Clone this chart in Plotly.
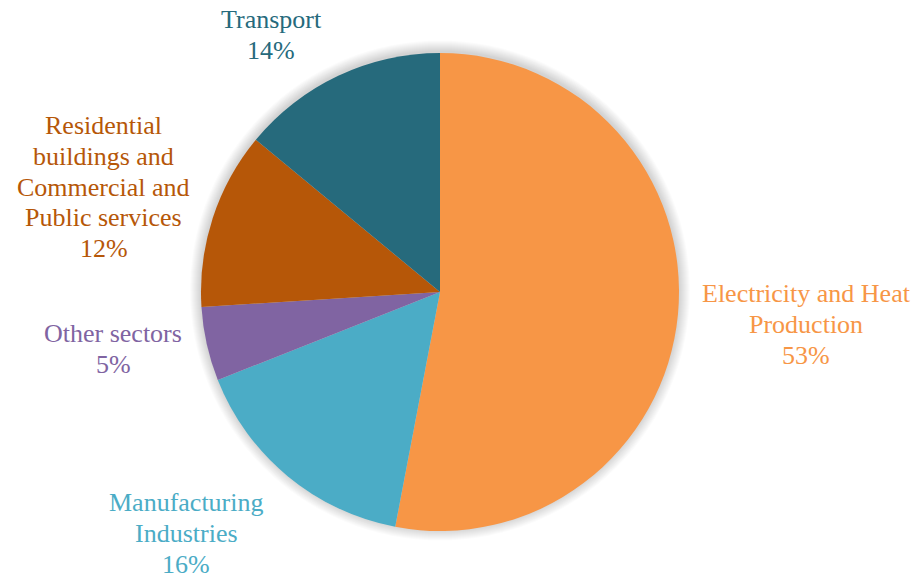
import plotly.graph_objects as go

# Sector shares of emissions (%)
sectors = [
    "Electricity and Heat Production",
    "Manufacturing Industries",
    "Other sectors",
    "Residential buildings and Commercial and Public services",
    "Transport",
]
shares = [53, 16, 5, 12, 14]
colors = ["#F79646", "#4BACC6", "#8064A2", "#B65708", "#266A7C"]

# Label text broken into lines (the last line carries the share)
label_lines = [
    ["Electricity and Heat", "Production"],
    ["Manufacturing", "Industries"],
    ["Other sectors"],
    ["Residential", "buildings and", "Commercial and", "Public services"],
    ["Transport"],
]
# Label block placement in pixels: centre x, baseline of first line
label_pos = [(806, 301.7), (186, 510.7), (113, 341.7), (103.5, 133.3), (271, 27.5)]

W, H = 917, 577
cx, cy, r = 440, 292, 239
font_size = 26
line_gap = 30.8
serif = "Times New Roman"

fig = go.Figure()
fig.add_trace(go.Pie(
    labels=sectors,
    values=shares,
    marker=dict(colors=colors, line=dict(width=0)),
    sort=False,
    direction="clockwise",
    rotation=0,
    textinfo="none",
    hoverinfo="label+percent",
    showlegend=False,
    domain=dict(x=[(cx - r) / W, (cx + r) / W],
                y=[(H - cy - r) / H, (H - cy + r) / H]),
))

# Soft shadow halo behind the pie
shapes = []
for k in range(1, 12):
    rr = r + k
    shapes.append(dict(
        type="circle", xref="paper", yref="paper", layer="below",
        x0=(cx - rr) / W, x1=(cx + rr) / W,
        y0=(H - cy - rr + 1.5) / H, y1=(H - cy + rr + 1.5) / H,
        fillcolor="rgba(0,0,0,0.016)", line=dict(width=0),
    ))

annotations = []
for lines, share, col, (lx, ly) in zip(label_lines, shares, colors, label_pos):
    all_lines = lines + [f"{share}%"]
    for i, txt in enumerate(all_lines):
        baseline = ly + i * line_gap
        mid = baseline - 0.3 * font_size
        annotations.append(dict(
            x=lx / W, y=1 - mid / H, xref="paper", yref="paper",
            text=txt, showarrow=False, xanchor="center", yanchor="middle",
            borderpad=0,
            font=dict(family=serif, size=font_size, color=col),
        ))

fig.update_layout(
    width=W, height=H,
    margin=dict(l=0, r=0, t=0, b=0),
    font=dict(family=serif),
    paper_bgcolor="white",
    plot_bgcolor="white",
    shapes=shapes,
    annotations=annotations,
)

fig.write_html("out.html")
